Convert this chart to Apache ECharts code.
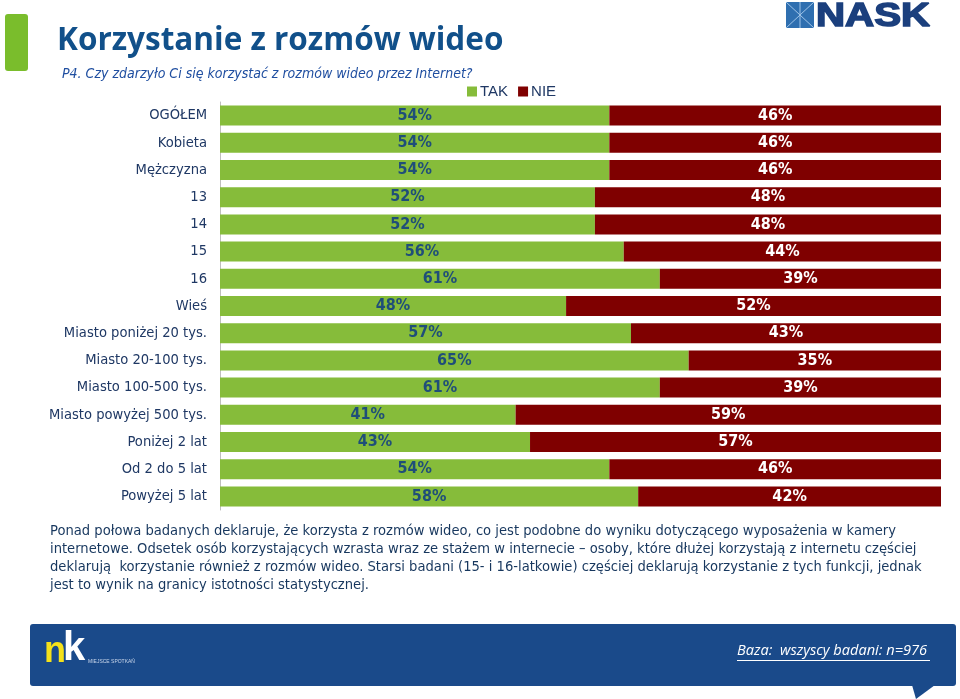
<!DOCTYPE html>
<html>
<head>
<meta charset="utf-8">
<script src="https://cdn.jsdelivr.net/npm/echarts@6/dist/echarts.min.js"></script>
<style>html,body{margin:0;padding:0;background:#fff;}#c{width:960px;height:699px;}</style>
</head>
<body>
<div id="c"></div>
<script>
const categories = ['OGÓŁEM','Kobieta','Mężczyzna','13','14','15','16','Wieś','Miasto poniżej 20 tys.','Miasto 20-100 tys.','Miasto 100-500 tys.','Miasto powyżej 500 tys.','Poniżej 2 lat','Od 2 do 5 lat','Powyżej 5 lat'];
const tak = [54,54,54,52,52,56,61,48,57,65,61,41,43,54,58];
const nie = [46,46,46,48,48,44,39,52,43,35,39,59,57,46,42];
const seriesNames = ['TAK','NIE'];
const titleText = 'Korzystanie z rozmów wideo';
const subtitleText = 'P4. Czy zdarzyło Ci się korzystać z rozmów wideo przez Internet?';
const paragraph = [
 'Ponad połowa badanych deklaruje, że korzysta z rozmów wideo, co jest podobne do wyniku dotyczącego wyposażenia w kamery',
 'internetowe. Odsetek osób korzystających wzrasta wraz ze stażem w internecie – osoby, które dłużej korzystają z internetu częściej',
 'deklarują  korzystanie również z rozmów wideo. Starsi badani (15- i 16-latkowie) częściej deklarują korzystanie z tych funkcji, jednak',
 'jest to wynik na granicy istotności statystycznej.'
];
const baseText = 'Baza:  wszyscy badani: n=976';

const chart = echarts.init(document.getElementById('c'));
const bodyFont = '"DejaVu Sans Condensed", "DejaVu Sans", sans-serif';
const navy = '#1F3864';
chart.setOption({
  animation: false,
  legend: {
    data: seriesNames, left: 462, top: 79, itemWidth: 10, itemHeight: 10, itemGap: 10, icon: 'rect',
    textStyle: { color: navy, fontSize: 15, fontFamily: '"Liberation Sans", Arial, sans-serif', padding: [0,0,0,-2] }
  },
  grid: { left: 220, right: 19, top: 102, bottom: 189 },
  xAxis: { type: 'value', min: 0, max: 100, show: false },
  yAxis: {
    type: 'category', data: categories, inverse: true,
    axisLine: { show: true, lineStyle: { color: '#BFBFBF', width: 1 } },
    axisTick: { show: false },
    axisLabel: { color: navy, fontSize: 14.6, margin: 13, fontFamily: bodyFont }
  },
  series: [
    { name: 'TAK', type: 'bar', stack: 's', data: tak, barWidth: 20, itemStyle: { color: '#86BC3A' },
      label: { show: true, position: 'inside', formatter: '{c}%', color: '#1F4E79', fontWeight: 'bold', fontSize: 16, fontFamily: bodyFont } },
    { name: 'NIE', type: 'bar', stack: 's', data: nie, barWidth: 20, itemStyle: { color: '#7F0000' },
      label: { show: true, position: 'inside', formatter: '{c}%', color: '#FFFFFF', fontWeight: 'bold', fontSize: 16, fontFamily: bodyFont } }
  ],
  graphic: [
    { type: 'rect', shape: { x: 5, y: 14, width: 23, height: 57, r: 3 }, style: { fill: '#7ABD2C' } },
    { type: 'text', left: 57, top: 25, style: { text: titleText, fill: '#11508A', font: 'bold 31.5px "Open Sans", sans-serif' } },
    { type: 'text', left: 62, top: 67, style: { text: subtitleText, fill: '#1F4EA0', font: 'italic 14px ' + bodyFont } },
    // NASK logo
    { type: 'rect', shape: { x: 786, y: 2, width: 28, height: 26 }, style: { fill: '#2F6FB0' } },
    { type: 'polyline', shape: { points: [[786,2],[814,28]] }, style: { stroke: '#9FC4E8', lineWidth: 1 } },
    { type: 'polyline', shape: { points: [[814,2],[786,28]] }, style: { stroke: '#9FC4E8', lineWidth: 1 } },
    { type: 'polyline', shape: { points: [[800,2],[800,28]] }, style: { stroke: '#9FC4E8', lineWidth: 1 } },
    { type: 'text', x: 816, y: 0, scaleX: 1.22, style: { text: 'NASK', fill: '#1B3F7D', font: 'bold 33px "Liberation Sans", sans-serif', stroke: '#1B3F7D', lineWidth: 1.5 } },
    // paragraph
    { type: 'text', left: 50, top: 522, style: { text: paragraph.join('\n'), fill: '#17375E', font: '14.6px ' + bodyFont, lineHeight: 18 } },
    // footer banner
    { type: 'rect', shape: { x: 30, y: 624, width: 926, height: 62, r: 3 }, style: { fill: '#1A4A8A' } },
    { type: 'polygon', shape: { points: [[912,685],[935,685],[916,699]] }, style: { fill: '#1A4A8A' } },
    { type: 'text', left: 44, top: 634, style: { text: 'n', fill: '#F5E11A', font: 'bold 36px "Liberation Sans", sans-serif' } },
    { type: 'text', left: 63, top: 629, style: { text: 'k', fill: '#FFFFFF', font: 'bold 40px "Liberation Sans", sans-serif' } },
    { type: 'text', left: 88, top: 659, style: { text: 'MIEJSCE SPOTKAŃ', fill: '#C9D6EA', font: '5px sans-serif' } },
    { type: 'text', left: 737, top: 643, style: { text: baseText, fill: '#FFFFFF', font: 'italic 14.6px "Open Sans", sans-serif' } },
    { type: 'rect', shape: { x: 737, y: 660, width: 193, height: 1 }, style: { fill: '#FFFFFF' } }
  ]
});
</script>
</body>
</html>
